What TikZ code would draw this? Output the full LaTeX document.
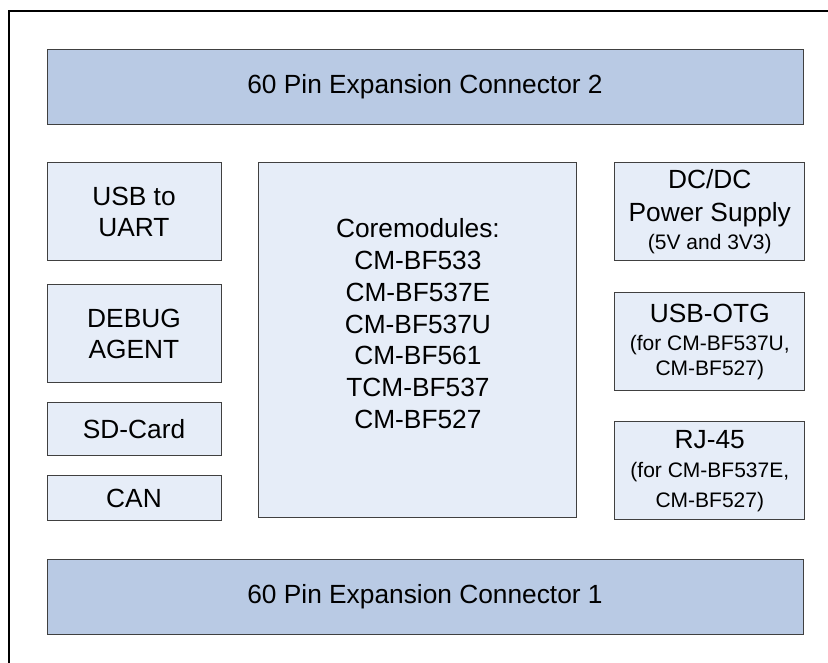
\documentclass[tikz,border=0pt]{standalone}
\usepackage{fontspec}
\setmainfont{Liberation Sans}
\usepackage{xcolor}
\usetikzlibrary{positioning}
\definecolor{connblue}{HTML}{B9CAE4}
\definecolor{unitblue}{HTML}{E6EDF8}
\newcommand{\notesize}{\fontsize{21}{25}\selectfont}

\begin{document}
\begin{tikzpicture}[x=1pt,y=-1pt,inner sep=0pt,align=center]
  \tikzstyle{every node}=[font=\fontsize{26.3}{31.7}\selectfont]
  \tikzstyle{conn}=[draw=black!75,line width=0.9pt,fill=connblue,minimum width=756pt,minimum height=75pt]
  \tikzstyle{unit}=[draw=black!75,line width=0.9pt,fill=unitblue,minimum width=174pt,minimum height=98pt]
  \tikzstyle{side}=[unit,minimum width=190pt]
  \useasboundingbox (0,0) rectangle (828,662);
  \draw[line width=1.2pt] (9,11) rectangle (845,680);

  \node[conn] (conn2) at (425,86.5) {60 Pin Expansion Connector 2};

  \node[unit] (usb) [below=38pt of conn2.south west,anchor=north west] {USB to\\UART};
  \node[unit] (debug) [below=23pt of usb] {DEBUG\\AGENT};
  \node[unit,minimum height=53pt] (sd) [below=19pt of debug] {SD-Card};
  \node[unit,minimum height=45pt] (can) [below=19pt of sd] {CAN};

  \node[unit,minimum width=318pt,minimum height=355pt] (core) [right=37pt of usb.north east,anchor=north west]
    {Coremodules:\\CM-BF533\\CM-BF537E\\CM-BF537U\\CM-BF561\\TCM-BF537\\CM-BF527\\[2pt]\mbox{}};

  \node[side] (dcdc) [right=37pt of core.north east,anchor=north west]
    {DC/DC\\[1pt]Power Supply\\[-3.4pt]{\notesize (5V and 3V3)}};
  \node[side] (otg) [below=31pt of dcdc]
    {USB-OTG\\[-3.4pt]{\notesize (for CM-BF537U,}\\[-6.7pt]{\notesize CM-BF527)}};
  \node[side] (rj) [below=30pt of otg]
    {RJ-45\\[-2.7pt]{\notesize (for CM-BF537E,}\\[-1.7pt]{\notesize CM-BF527)}};

  \node[conn] (conn1) [below=38pt of can.south west,anchor=north west] {60 Pin Expansion Connector 1};
\end{tikzpicture}
\end{document}
